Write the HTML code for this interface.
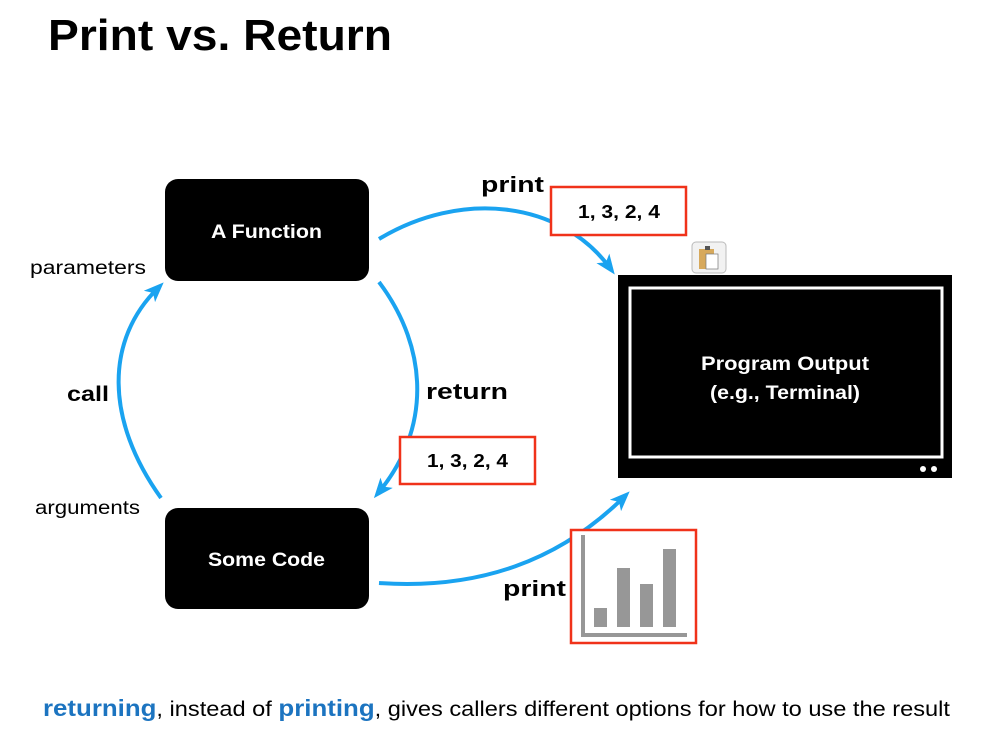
<!DOCTYPE html>
<html><head><meta charset="utf-8"><style>
html,body{margin:0;padding:0;background:#fff;}
svg{display:block;font-family:"Liberation Sans",sans-serif;}
</style></head><body>
<svg width="1002" height="734" viewBox="0 0 1002 734">
<defs>
<marker id="ah" markerWidth="20" markerHeight="20" refX="12" refY="10" orient="auto" markerUnits="userSpaceOnUse" viewBox="0 0 20 20">
<path d="M0,2 L20,10 L0,18 L5,10 Z" fill="#1aa3f0"/>
</marker>
</defs>
<text x="48" y="50" font-size="44" font-weight="bold" fill="#000" textLength="344" lengthAdjust="spacingAndGlyphs">Print vs. Return</text>

<rect x="165" y="179" width="204" height="102" rx="13" fill="#000"/>
<text x="211" y="238" font-size="19" font-weight="bold" fill="#fff" textLength="111" lengthAdjust="spacingAndGlyphs">A Function</text>
<rect x="165" y="508" width="204" height="101" rx="13" fill="#000"/>
<text x="208" y="566" font-size="19" font-weight="bold" fill="#fff" textLength="117" lengthAdjust="spacingAndGlyphs">Some Code</text>

<g fill="none" stroke="#1aa3f0" stroke-width="4">
<path d="M161,498 C105,420 105,340 158,288" marker-end="url(#ah)"/>
<path d="M379,282 C430,350 430,430 379,492" marker-end="url(#ah)"/>
<path d="M379,239 C460,190 560,200 610,268" marker-end="url(#ah)"/>
<path d="M379,583 C480,590 560,560 624,497" marker-end="url(#ah)"/>
</g>

<text x="30" y="274" font-size="19" fill="#000" textLength="116" lengthAdjust="spacingAndGlyphs">parameters</text>
<text x="67" y="401" font-size="21" font-weight="bold" fill="#000" textLength="42" lengthAdjust="spacingAndGlyphs">call</text>
<text x="35" y="514" font-size="19" fill="#000" textLength="105" lengthAdjust="spacingAndGlyphs">arguments</text>
<text x="481" y="192" font-size="22" font-weight="bold" fill="#000" textLength="63" lengthAdjust="spacingAndGlyphs">print</text>
<text x="426" y="399" font-size="22" font-weight="bold" fill="#000" textLength="82" lengthAdjust="spacingAndGlyphs">return</text>
<text x="503" y="596" font-size="22" font-weight="bold" fill="#000" textLength="63" lengthAdjust="spacingAndGlyphs">print</text>

<rect x="551" y="187" width="135" height="48" fill="#fff" stroke="#f0321a" stroke-width="2.5"/>
<text x="578" y="218" font-size="18" font-weight="bold" fill="#000" textLength="82" lengthAdjust="spacingAndGlyphs">1, 3, 2, 4</text>
<rect x="400" y="437" width="135" height="47" fill="#fff" stroke="#f0321a" stroke-width="2.5"/>
<text x="427" y="467" font-size="18" font-weight="bold" fill="#000" textLength="81" lengthAdjust="spacingAndGlyphs">1, 3, 2, 4</text>

<rect x="571" y="530" width="125" height="113" fill="#fff" stroke="#f0321a" stroke-width="2.5"/>
<g fill="#979797">
<rect x="581" y="535" width="4" height="101"/>
<rect x="581" y="633" width="106" height="4"/>
<rect x="594" y="608" width="13" height="19"/>
<rect x="617" y="568" width="13" height="59"/>
<rect x="640" y="584" width="13" height="43"/>
<rect x="663" y="549" width="13" height="78"/>
</g>

<rect x="618" y="275" width="334" height="203" fill="#000"/>
<rect x="630" y="288" width="312" height="169" fill="none" stroke="#fff" stroke-width="3"/>
<circle cx="923" cy="469" r="3" fill="#fff"/>
<circle cx="934" cy="469" r="3" fill="#fff"/>
<text x="701" y="370" font-size="19" font-weight="bold" fill="#fff" textLength="168" lengthAdjust="spacingAndGlyphs">Program Output</text>
<text x="710" y="399" font-size="19" font-weight="bold" fill="#fff" textLength="150" lengthAdjust="spacingAndGlyphs">(e.g., Terminal)</text>

<rect x="692" y="242" width="34" height="31" rx="4" fill="#f2f2f2" stroke="#bbb"/>
<rect x="699" y="249" width="15" height="20" fill="#d7a95c"/>
<rect x="705" y="246" width="5" height="4" fill="#555"/>
<rect x="706" y="254" width="12" height="15" fill="#fff" stroke="#777" stroke-width="0.7"/>

<text x="43" y="716" font-size="21" fill="#000" textLength="907" lengthAdjust="spacingAndGlyphs"><tspan font-weight="bold" fill="#1c74c0" font-size="23">returning</tspan>, instead of <tspan font-weight="bold" fill="#1c74c0" font-size="23">printing</tspan>, gives callers different options for how to use the result</text>
</svg>
</body></html>
